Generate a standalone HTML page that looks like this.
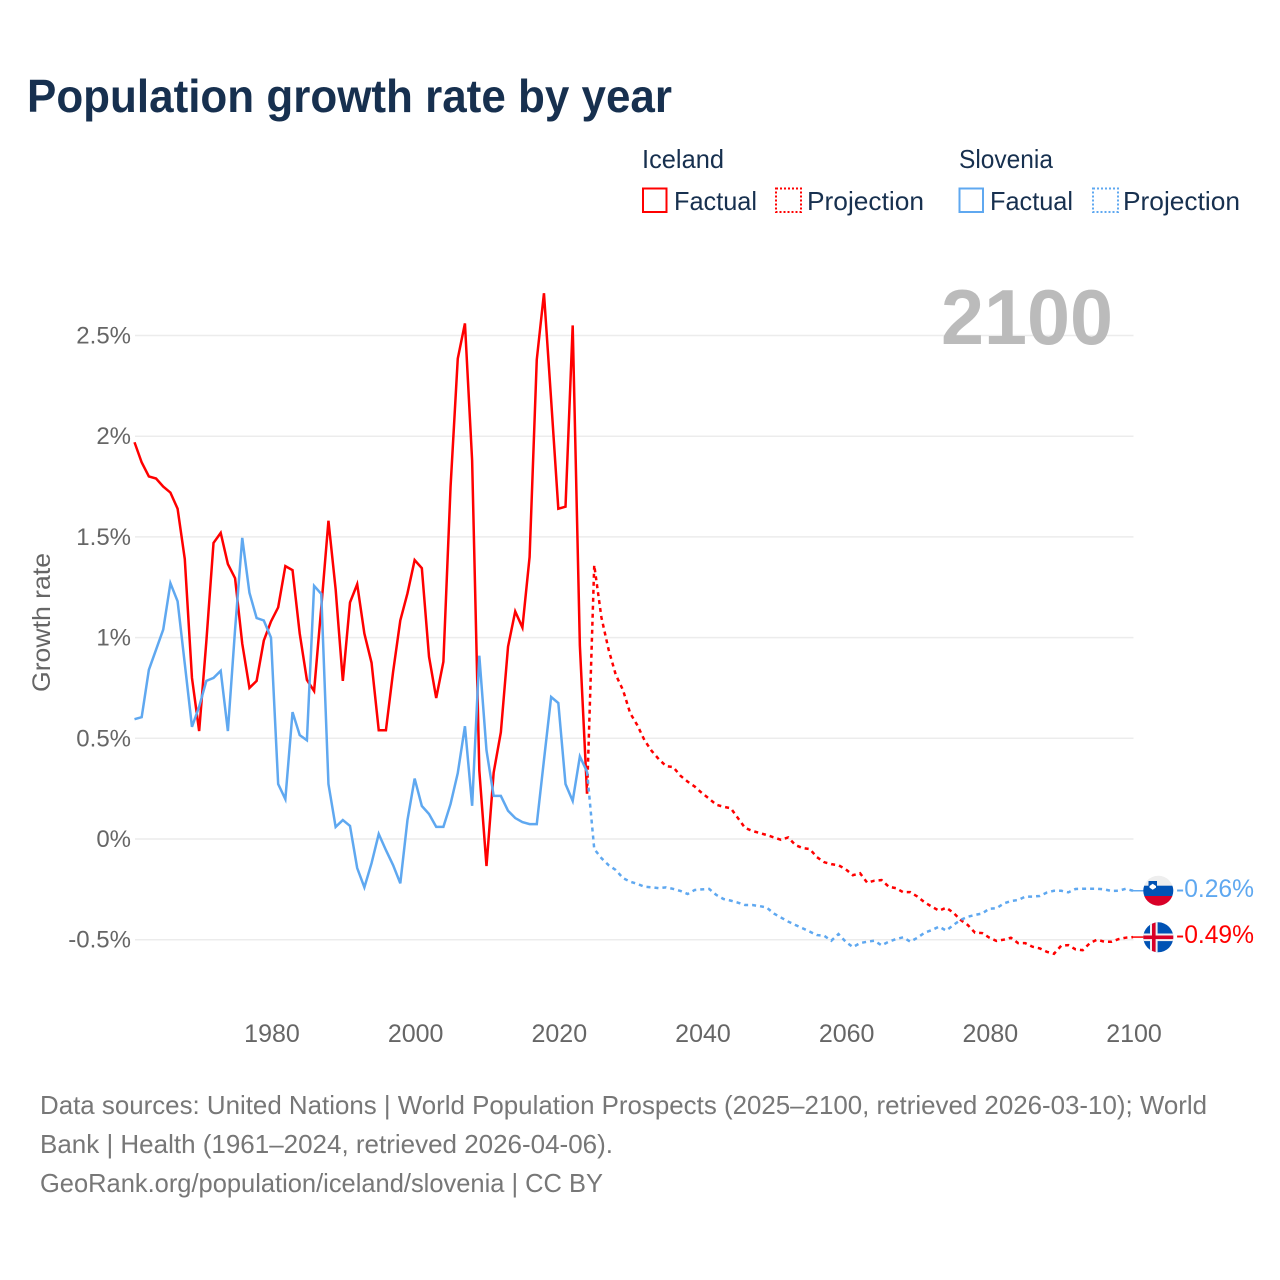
<!DOCTYPE html>
<html lang="en">
<head>
<meta charset="utf-8">
<title>Population growth rate by year</title>
<style>
html,body{margin:0;padding:0;background:#fff;}
svg{display:block;font-family:"Liberation Sans",Arial,sans-serif;}
</style>
</head>
<body>
<svg id="chart" xmlns="http://www.w3.org/2000/svg" width="1280" height="1280" viewBox="0 0 1280 1280">
  <rect x="0" y="0" width="1280" height="1280" fill="#ffffff"/>
  <text x="27" y="112" font-size="46" font-weight="700" fill="#17304f" textLength="645" lengthAdjust="spacingAndGlyphs">Population growth rate by year</text>

  <g font-size="26" fill="#17304f">
    <text x="642" y="168" textLength="82" lengthAdjust="spacingAndGlyphs">Iceland</text>
    <rect x="643" y="188.5" width="23.5" height="23.5" fill="none" stroke="#ff0000" stroke-width="2"/>
    <text x="674" y="210" textLength="83" lengthAdjust="spacingAndGlyphs">Factual</text>
    <rect x="776" y="188.5" width="25" height="23.5" fill="none" stroke="#ff0000" stroke-width="2" stroke-dasharray="2,2"/>
    <text x="807" y="210" textLength="117" lengthAdjust="spacingAndGlyphs">Projection</text>
    <text x="959" y="168" textLength="94" lengthAdjust="spacingAndGlyphs">Slovenia</text>
    <rect x="959.5" y="188.5" width="23.5" height="23.5" fill="none" stroke="#5fa8f0" stroke-width="2"/>
    <text x="990" y="210" textLength="83" lengthAdjust="spacingAndGlyphs">Factual</text>
    <rect x="1093" y="188.5" width="25" height="23.5" fill="none" stroke="#5fa8f0" stroke-width="2" stroke-dasharray="2,2"/>
    <text x="1123" y="210" textLength="117" lengthAdjust="spacingAndGlyphs">Projection</text>
  </g>

  <g id="grid"></g>
  <g id="y-ticks" font-size="24" fill="#666666" text-anchor="end"></g>
  <g id="x-ticks" font-size="25" fill="#666666" text-anchor="middle"></g>
  <text transform="translate(50,692) rotate(-90)" font-size="25" fill="#666666" textLength="139" lengthAdjust="spacingAndGlyphs">Growth rate</text>

  <text x="941" y="344" font-size="78" font-weight="700" fill="#bbbbbb" textLength="172" lengthAdjust="spacingAndGlyphs">2100</text>

  <g id="series"></g>

  <g id="end-markers"></g>

  <defs>
    <clipPath id="clip-si"><circle cx="1158.3" cy="890.7" r="15"/></clipPath>
    <clipPath id="clip-is"><circle cx="1158.3" cy="937.3" r="15"/></clipPath>
  </defs>
  <g clip-path="url(#clip-si)">
    <rect x="1143" y="875" width="31" height="11" fill="#eeeeee"/>
    <rect x="1143" y="885.7" width="31" height="10.4" fill="#0052b4"/>
    <rect x="1143" y="896" width="31" height="11" fill="#d80027"/>
    <path d="M1148.5 881 h8.5 v5 q0 3.5 -4.25 5 q-4.25 -1.5 -4.25 -5 z" fill="#0052b4"/>
    <path d="M1149.5 886 l3.2 -2.2 l3.3 2.2 v1.6 l-3.3 2.2 l-3.2 -2.2 z" fill="#ffffff"/>
  </g>
  <g clip-path="url(#clip-is)">
    <rect x="1143" y="922" width="31" height="31" fill="#0052b4"/>
    <rect x="1150" y="922" width="7.6" height="31" fill="#f0f0f0"/>
    <rect x="1143" y="933.5" width="31" height="7.6" fill="#f0f0f0"/>
    <rect x="1152" y="922" width="3.6" height="31" fill="#d80027"/>
    <rect x="1143" y="935.5" width="31" height="3.6" fill="#d80027"/>
  </g>

  <g font-size="26" fill="#777777">
    <text x="40" y="1114" textLength="1167" lengthAdjust="spacingAndGlyphs">Data sources: United Nations | World Population Prospects (2025–2100, retrieved 2026-03-10); World</text>
    <text x="40" y="1153" textLength="573" lengthAdjust="spacingAndGlyphs">Bank | Health (1961–2024, retrieved 2026-04-06).</text>
    <text x="40" y="1192" textLength="563" lengthAdjust="spacingAndGlyphs">GeoRank.org/population/iceland/slovenia | CC BY</text>
  </g>
</svg>

<script>
var factualStartYear = 1961;
var projectionStartYear = 2025;
var yTickValues = [2.5, 2, 1.5, 1, 0.5, 0, -0.5];
var yTickLabels = ["2.5%", "2%", "1.5%", "1%", "0.5%", "0%", "-0.5%"];
var xTickValues = [1980, 2000, 2020, 2040, 2060, 2080, 2100];
var xTickLabels = ["1980", "2000", "2020", "2040", "2060", "2080", "2100"];

var icelandFactual = [
  1.97, 1.87, 1.80, 1.79, 1.75, 1.72, 1.64, 1.39, 0.80, 0.536,
  0.98, 1.47, 1.52, 1.365, 1.295, 0.97, 0.75, 0.785, 0.985, 1.08,
  1.15, 1.355, 1.335, 1.02, 0.79, 0.735, 1.15, 1.58, 1.24, 0.785,
  1.175, 1.265, 1.02, 0.875, 0.54, 0.54, 0.83, 1.085, 1.22, 1.385,
  1.345, 0.905, 0.70, 0.88, 1.75, 2.385, 2.56, 1.88, 0.34, -0.134,
  0.33, 0.53, 0.955, 1.13, 1.05, 1.40, 2.38, 2.71, 2.18, 1.64,
  1.65, 2.55, 0.96, 0.225
];
var icelandProjection = [
  1.36, 1.10, 0.94, 0.815, 0.74, 0.625, 0.565, 0.49, 0.437, 0.396,
  0.362, 0.357, 0.314, 0.285, 0.26, 0.228, 0.20, 0.17, 0.16, 0.153,
  0.104, 0.055, 0.04, 0.03, 0.02, 0.008, -0.004, 0.008, -0.03, -0.045,
  -0.05, -0.09, -0.115, -0.125, -0.13, -0.15, -0.18, -0.17, -0.217, -0.207,
  -0.204, -0.237, -0.244, -0.264, -0.264, -0.286, -0.315, -0.336, -0.356, -0.341,
  -0.366, -0.402, -0.427, -0.465, -0.467, -0.49, -0.506, -0.50, -0.49, -0.517,
  -0.517, -0.535, -0.543, -0.56, -0.57, -0.53, -0.527, -0.548, -0.552, -0.517,
  -0.50, -0.51, -0.51, -0.497, -0.49, -0.487
];
var sloveniaFactual = [
  0.595, 0.605, 0.84, 0.94, 1.04, 1.27, 1.18, 0.87, 0.557, 0.657,
  0.785, 0.80, 0.835, 0.536, 1.04, 1.495, 1.223, 1.097, 1.085, 1.00,
  0.273, 0.198, 0.63, 0.516, 0.49, 1.257, 1.217, 0.273, 0.06, 0.094,
  0.065, -0.144, -0.24, -0.12, 0.025, -0.055, -0.13, -0.22, 0.094, 0.30,
  0.164, 0.124, 0.06, 0.06, 0.174, 0.327, 0.56, 0.165, 0.91, 0.44,
  0.214, 0.214, 0.14, 0.104, 0.084, 0.074, 0.074, 0.392, 0.705, 0.675,
  0.273, 0.189, 0.41, 0.334
];
var sloveniaProjection = [
  -0.05, -0.095, -0.13, -0.154, -0.194, -0.212, -0.223, -0.237, -0.24, -0.244,
  -0.24, -0.248, -0.258, -0.273, -0.253, -0.25, -0.248, -0.278, -0.298, -0.306,
  -0.316, -0.328, -0.328, -0.333, -0.34, -0.37, -0.39, -0.41, -0.427, -0.443,
  -0.46, -0.477, -0.48, -0.505, -0.472, -0.51, -0.537, -0.517, -0.51, -0.505,
  -0.528, -0.51, -0.497, -0.488, -0.51, -0.49, -0.465, -0.452, -0.435, -0.455,
  -0.427, -0.402, -0.386, -0.377, -0.37, -0.346, -0.344, -0.32, -0.308, -0.303,
  -0.286, -0.286, -0.283, -0.266, -0.257, -0.257, -0.265, -0.248, -0.247, -0.247,
  -0.247, -0.25, -0.258, -0.257, -0.247, -0.257
];

var SVG_NS = "http://www.w3.org/2000/svg";
var plotLeft = 135;
var plotRight = 1133.5;

function xScale(year) {
  return 134.5 + (year - 1961) * (1133 - 134.5) / 139;
}
function yScale(value) {
  return 839 - value * 201.4;
}
function linePath(startYear, values, prevYear, prevValue) {
  var parts = [];
  if (prevYear !== null) {
    parts.push("M" + xScale(prevYear).toFixed(2) + " " + yScale(prevValue).toFixed(2));
  }
  for (var i = 0; i < values.length; i++) {
    var cmd = parts.length === 0 ? "M" : "L";
    parts.push(cmd + xScale(startYear + i).toFixed(2) + " " + yScale(values[i]).toFixed(2));
  }
  return parts.join(" ");
}
function makeEl(tag) {
  return document.createElementNS(SVG_NS, tag);
}

var gridGroup = document.getElementById("grid");
var yTickGroup = document.getElementById("y-ticks");
yTickValues.forEach(function (v, i) {
  var line = makeEl("line");
  
  
  line.setAttribute("x1", plotLeft);
  line.setAttribute("x2", plotRight);
  line.setAttribute("y1", yScale(v));
  line.setAttribute("y2", yScale(v));
  line.setAttribute("stroke", "#ececec");
  line.setAttribute("stroke-width", "1.5");
  gridGroup.appendChild(line);

  var label = makeEl("text");
  
  
  label.setAttribute("x", 131);
  label.setAttribute("y", yScale(v) + 8);
  label.textContent = yTickLabels[i];
  yTickGroup.appendChild(label);
});

var xTickGroup = document.getElementById("x-ticks");
xTickValues.forEach(function (year, i) {
  var label = makeEl("text");
  
  
  label.setAttribute("x", xScale(year) + 1);
  label.setAttribute("y", 1042);
  label.textContent = xTickLabels[i];
  xTickGroup.appendChild(label);
});

var seriesGroup = document.getElementById("series");

var icelandFactualLine = makeEl("path");


icelandFactualLine.setAttribute("d", linePath(factualStartYear, icelandFactual, null, null));
icelandFactualLine.setAttribute("fill", "none");
icelandFactualLine.setAttribute("stroke", "#ff0000");
icelandFactualLine.setAttribute("stroke-width", "2.5");
seriesGroup.appendChild(icelandFactualLine);

var icelandProjectionLine = makeEl("path");


icelandProjectionLine.setAttribute("d", linePath(projectionStartYear, icelandProjection, projectionStartYear - 1, icelandFactual[icelandFactual.length - 1]));
icelandProjectionLine.setAttribute("fill", "none");
icelandProjectionLine.setAttribute("stroke", "#ff0000");
icelandProjectionLine.setAttribute("stroke-width", "2.5");
icelandProjectionLine.setAttribute("stroke-dasharray", "4,4");
seriesGroup.appendChild(icelandProjectionLine);

var sloveniaFactualLine = makeEl("path");


sloveniaFactualLine.setAttribute("d", linePath(factualStartYear, sloveniaFactual, null, null));
sloveniaFactualLine.setAttribute("fill", "none");
sloveniaFactualLine.setAttribute("stroke", "#5fa8f0");
sloveniaFactualLine.setAttribute("stroke-width", "2.5");
seriesGroup.appendChild(sloveniaFactualLine);

var sloveniaProjectionLine = makeEl("path");


sloveniaProjectionLine.setAttribute("d", linePath(projectionStartYear, sloveniaProjection, projectionStartYear - 1, sloveniaFactual[sloveniaFactual.length - 1]));
sloveniaProjectionLine.setAttribute("fill", "none");
sloveniaProjectionLine.setAttribute("stroke", "#5fa8f0");
sloveniaProjectionLine.setAttribute("stroke-width", "2.5");
sloveniaProjectionLine.setAttribute("stroke-dasharray", "4,4");
seriesGroup.appendChild(sloveniaProjectionLine);

var endGroup = document.getElementById("end-markers");
var lastSlovenia = sloveniaProjection[sloveniaProjection.length - 1];
var lastIceland = icelandProjection[icelandProjection.length - 1];

var sloveniaConnector = makeEl("line");


sloveniaConnector.setAttribute("x1", xScale(2100));
sloveniaConnector.setAttribute("x2", 1144);
sloveniaConnector.setAttribute("y1", yScale(lastSlovenia));
sloveniaConnector.setAttribute("y2", yScale(lastSlovenia));
sloveniaConnector.setAttribute("stroke", "#5fa8f0");
sloveniaConnector.setAttribute("stroke-width", "1.5");
endGroup.appendChild(sloveniaConnector);

var icelandConnector = makeEl("line");


icelandConnector.setAttribute("x1", xScale(2100));
icelandConnector.setAttribute("x2", 1144);
icelandConnector.setAttribute("y1", yScale(lastIceland));
icelandConnector.setAttribute("y2", yScale(lastIceland));
icelandConnector.setAttribute("stroke", "#ff0000");
icelandConnector.setAttribute("stroke-width", "1.5");
endGroup.appendChild(icelandConnector);

var sloveniaValue = makeEl("text");


sloveniaValue.setAttribute("x", 1176);
sloveniaValue.setAttribute("y", 897);
sloveniaValue.setAttribute("font-size", "25");
sloveniaValue.setAttribute("fill", "#5fa8f0");
sloveniaValue.setAttribute("textLength", "78");
sloveniaValue.setAttribute("lengthAdjust", "spacingAndGlyphs");
sloveniaValue.textContent = lastSlovenia.toFixed(2) + "%";
endGroup.appendChild(sloveniaValue);

var icelandValue = makeEl("text");


icelandValue.setAttribute("x", 1176);
icelandValue.setAttribute("y", 943);
icelandValue.setAttribute("font-size", "25");
icelandValue.setAttribute("fill", "#ff0000");
icelandValue.setAttribute("textLength", "78");
icelandValue.setAttribute("lengthAdjust", "spacingAndGlyphs");
icelandValue.textContent = lastIceland.toFixed(2) + "%";
endGroup.appendChild(icelandValue);
</script>
</body>
</html>
